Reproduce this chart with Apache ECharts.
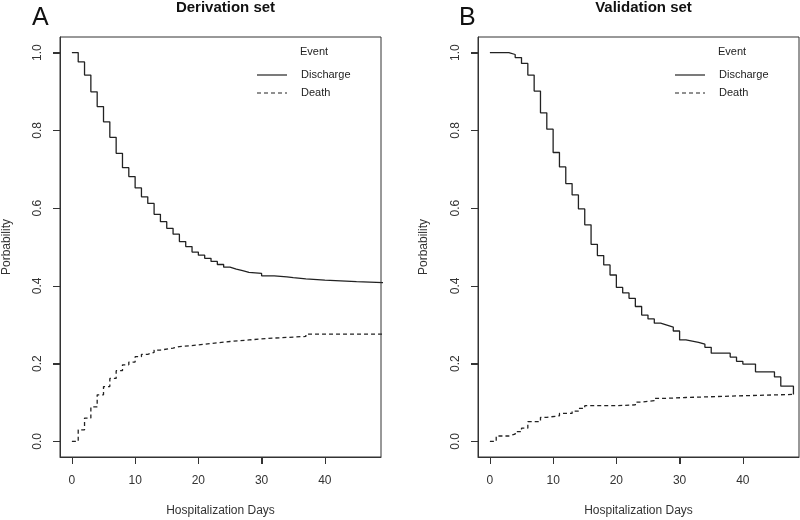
<!DOCTYPE html>
<html><head><meta charset="utf-8">
<script src="https://cdn.jsdelivr.net/npm/echarts@6/dist/echarts.min.js"></script>
<style>html,body{margin:0;padding:0;background:#fff}#c{width:800px;height:520px}</style>
</head><body><div id="c"></div>
<script>
// Panel A (Derivation set)
const daysA_dis = [0,1,2,3,4,5,6,7,8,9,10,11,12,13,14,15,16,17,18,19,20,21,22,23,24,25,26,27,28,30,32,34,35,37,40,45,50];
const probA_dis = [1.000,0.976,0.942,0.899,0.861,0.822,0.782,0.741,0.704,0.681,0.652,0.629,0.612,0.584,0.565,0.548,0.533,0.514,0.501,0.487,0.479,0.471,0.463,0.455,0.448,0.443,0.439,0.435,0.432,0.426,0.423,0.421,0.418,0.415,0.411,0.408,0.408];
const daysA_death = [0,1,2,3,4,5,6,7,8,9,10,11,12,13,14,16,17,20,22,25,28,31,37,50];
const probA_death = [0,0.030,0.060,0.089,0.120,0.141,0.162,0.182,0.197,0.204,0.218,0.224,0.229,0.235,0.240,0.244,0.248,0.252,0.257,0.261,0.265,0.270,0.276,0.276];
// Panel B (Validation set)
const daysB_dis = [0,3,4,5,6,7,8,9,10,11,12,13,14,15,16,17,18,19,20,21,22,23,24,25,26,27,28,29,30,31,32,33,34,35,38,39,40,42,45,46,48];
const probB_dis = [1.000,0.995,0.987,0.972,0.942,0.901,0.845,0.803,0.743,0.706,0.663,0.634,0.598,0.557,0.507,0.478,0.454,0.428,0.396,0.382,0.368,0.347,0.325,0.315,0.304,0.299,0.294,0.284,0.261,0.258,0.255,0.250,0.242,0.227,0.217,0.206,0.199,0.179,0.166,0.142,0.121];
const daysB_death = [0,1,3,4,5,6,8,9,11,13,14,15,20,23,24,26,28,31,39,48];
const probB_death = [0,0.014,0.019,0.025,0.034,0.051,0.062,0.066,0.072,0.078,0.085,0.092,0.094,0.101,0.105,0.111,0.113,0.117,0.121,0.121];

const xTicks = [0,10,20,30,40];
const yTicks = [0,0.2,0.4,0.6,0.8,1.0];
const panelTitles = ['Derivation set','Validation set'];
const panelLetters = ['A','B'];
const legendTitle = 'Event';
const legendNames = ['Discharge','Death'];
const xName = 'Hospitalization Days';
const yName = 'Porbability';

const zip = (d, p) => d.map((v, i) => [v, p[i]]);
const FONT = 'Liberation Sans, Arial, sans-serif';
const ink = '#222';
const X_MIN = -1.88, X_MAX = 48.88, Y_MIN = -0.04, Y_MAX = 1.04;

const grids = [
  {left: 60, right: 419, top: 37, bottom: 63},
  {left: 478, right: 1, top: 37, bottom: 63}
];

function xAx(i){ return {
  type:'value', gridIndex:i, min:X_MIN, max:X_MAX, position:'bottom',
  name:xName, nameLocation:'middle', nameGap:48,
  nameTextStyle:{fontFamily:FONT, fontSize:12, color:'#333'},
  axisLine:{show:true, onZero:false, lineStyle:{color:'#333', width:1}},
  axisTick:{show:true, length:7, customValues:xTicks, lineStyle:{color:'#333', width:1}},
  axisLabel:{customValues:xTicks, margin:18, fontFamily:FONT, fontSize:12, color:'#333'},
  splitLine:{show:false}
};}
function yAx(i){ return {
  type:'value', gridIndex:i, min:Y_MIN, max:Y_MAX, position:'left',
  name:yName, nameLocation:'middle', nameGap:i===0?47:48,
  nameTextStyle:{fontFamily:FONT, fontSize:12, color:'#333'},
  axisLine:{show:true, onZero:false, lineStyle:{color:'#333', width:1}},
  axisTick:{show:true, length:7, customValues:yTicks, lineStyle:{color:'#333', width:1}},
  axisLabel:{customValues:yTicks, rotate:90, margin:16, fontFamily:FONT, fontSize:12, color:'#333',
    formatter:v=>v.toFixed(1)},
  splitLine:{show:false}
};}

function ser(i, data, dashed){ return {
  type:'line', xAxisIndex:i, yAxisIndex:i, step:'end', data:data, showSymbol:false, clip:true,
  lineStyle:{color:ink, width:1.3, type: dashed ? [4,3] : 'solid'}, silent:true, animation:false
};}

function legend(dx){
  return [
    {type:'text', left:300+dx, top:46, style:{text:legendTitle, font:'11px '+FONT, fill:'#222'}},
    {type:'line', shape:{x1:257+dx, y1:75, x2:287+dx, y2:75}, style:{stroke:ink, lineWidth:1.2}},
    {type:'text', left:301+dx, top:69, style:{text:legendNames[0], font:'11px '+FONT, fill:'#222'}},
    {type:'line', shape:{x1:257+dx, y1:93, x2:287+dx, y2:93}, style:{stroke:ink, lineWidth:1.2, lineDash:[4,3]}},
    {type:'text', left:301+dx, top:87, style:{text:legendNames[1], font:'11px '+FONT, fill:'#222'}}
  ];
}

const chart = echarts.init(document.getElementById('c'), null, {renderer:'canvas'});
const baseGraphic = legend(0).concat(legend(418));
chart.setOption({
  animation:false,
  backgroundColor:'#fff',
  title:[
    {text:panelLetters[0], left:27, top:1, textStyle:{fontFamily:FONT, fontSize:25, fontWeight:'normal', color:'#111'}},
    {text:panelLetters[1], left:454, top:1, textStyle:{fontFamily:FONT, fontSize:25, fontWeight:'normal', color:'#111'}},
    {text:panelTitles[0], left:220.5, textAlign:'center', top:-5, textStyle:{fontFamily:FONT, fontSize:15, fontWeight:'bold', color:'#111'}},
    {text:panelTitles[1], left:638.5, textAlign:'center', top:-5, textStyle:{fontFamily:FONT, fontSize:15, fontWeight:'bold', color:'#111'}}
  ],
  grid: grids.map(g => Object.assign({show:true, borderColor:'#333', borderWidth:1, backgroundColor:'transparent', outerBoundsMode:'none', containLabel:false}, g)),
  xAxis:[xAx(0), xAx(1)],
  yAxis:[yAx(0), yAx(1)],
  series:[
    ser(0, zip(daysA_dis, probA_dis), false),
    ser(0, zip(daysA_death, probA_death), true),
    ser(1, zip(daysB_dis, probB_dis), false),
    ser(1, zip(daysB_death, probB_death), true)
  ],
  graphic: baseGraphic
});

// Outward tick marks placed through the axes' own scales
const tickGraphic = [];
const crisp = v => Math.round(v) + 0.5;
[0,1].forEach(i => {
  const bottom = Math.round(chart.convertToPixel({yAxisIndex:i}, Y_MIN));
  const left = Math.round(chart.convertToPixel({xAxisIndex:i}, X_MIN));
  xTicks.forEach(t => {
    const px = crisp(chart.convertToPixel({xAxisIndex:i}, t));
    tickGraphic.push({type:'line', silent:true, z:100, shape:{x1:px, y1:bottom, x2:px, y2:bottom+7}, style:{stroke:'#333', lineWidth:1}});
  });
  yTicks.forEach(t => {
    const py = crisp(chart.convertToPixel({yAxisIndex:i}, t));
    tickGraphic.push({type:'line', silent:true, z:100, shape:{x1:left-7, y1:py, x2:left, y2:py}, style:{stroke:'#333', lineWidth:1}});
  });
});
chart.setOption({graphic: baseGraphic.concat(tickGraphic)});
</script></body></html>
